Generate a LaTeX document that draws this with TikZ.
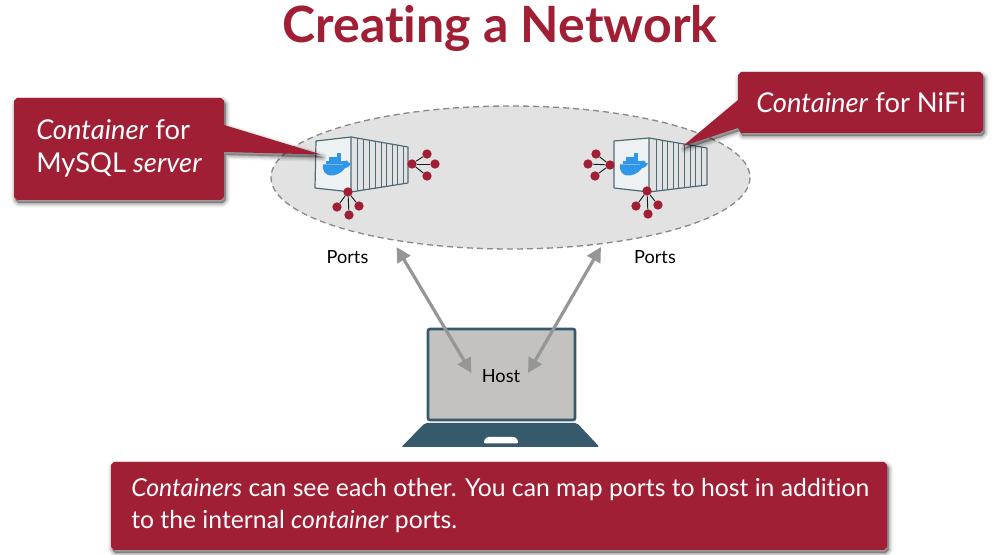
\documentclass[tikz,border=0pt]{standalone}
\usepackage{fontspec}
\setmainfont[Ligatures=NoCommon,Contextuals=NoAlternate]{Lato}
\usetikzlibrary{arrows.meta}
\definecolor{crimson}{HTML}{A01F35}
\definecolor{slateb}{HTML}{36596B}
\definecolor{contline}{HTML}{4F6B7A}
\definecolor{dockerb}{HTML}{2F96E8}
\definecolor{cloudg}{HTML}{E2E2E2}
\definecolor{dashg}{HTML}{8A8A8A}
\definecolor{screeng}{HTML}{C4C2C0}
\definecolor{arrowg}{HTML}{969696}
\definecolor{facec}{HTML}{EEF1F2}
\tikzset{
  x=0.75pt,y=-0.75pt,
  bodytext/.style={text=white,font=\fontsize{18.55}{22}\selectfont,anchor=base west,inner sep=0},
  calltext/.style={bodytext,font=\fontsize{20.5}{24}\selectfont},
  smalltext/.style={text=black,font=\fontsize{13.6}{16}\selectfont,inner sep=0},
  cont/.style={draw=contline,line width=0.9pt,line join=round},
  rib/.style={draw=contline,line width=0.7pt},
  porthub/.style={circle,fill=crimson,minimum size=7pt,inner sep=0},
  portwire/.style={draw=black!70!slateb,line width=0.7pt},
  linkarrow/.style={draw=arrowg,line width=2.4pt,{Triangle[length=11pt,width=11pt]}-{Triangle[length=11pt,width=11pt]}},
}
% soft drop shadow for a filled path
\newcommand{\softshadow}[1]{%
  \foreach \d/\o in {7/0.03,5.5/0.05,4/0.07,2.5/0.08,1/0.10}{
    \fill[black,opacity=\o,xshift=1.2pt,yshift=-2.2pt,line width=\d pt,draw=black,draw opacity=\o,line join=round] #1;
  }}
% whale: origin at left end of the body, at the water line
\newcommand{\whale}[2]{%
  \begin{scope}[shift={(#1,#2)}]
    \fill[dockerb] (0,-0.5) -- (20,-0.5) .. controls (20.5,-4) and (23,-5) .. (24,-4.5)
      .. controls (25,-3) and (25.5,-1.5) .. (28,-1.5)
      .. controls (27,1.5) and (24,3) .. (22,3.2)
      .. controls (18,9) and (11,11) .. (7,10.5)
      .. controls (2,10) and (-1,5) .. (0,-0.5) -- cycle;
    \foreach \px/\py in {2.5/-4,6.4/-4,10.3/-4,14.2/-4,18.1/-4,6.4/-7.9,10.3/-7.9,14.2/-7.9,14.2/-11.6}
      \fill[dockerb] (\px,\py) rectangle ++(3.5,3.5);
  \end{scope}}
\begin{document}
\begin{tikzpicture}
\useasboundingbox (0,0) rectangle (993,555);
\fill[white] (0,0) rectangle (993,555);

% title
\node[text=crimson,font=\bfseries\fontsize{37.5}{44}\selectfont,inner sep=0,anchor=base] (title) at (500,43) {Creating a Network};

% network cloud
\fill[cloudg] (510.5,177.5) ellipse [x radius=239.5,y radius=71.5];
\draw[dashg,line width=1pt,dash pattern=on 4.5pt off 3pt] (510.5,177.5) ellipse [x radius=239.5,y radius=71.5];

% left container
\fill[facec] (316,141) -- (351,137) -- (351,192) -- (315,188) -- cycle;
\draw[cont] (316,141) -- (351,137) -- (351,192) -- (315,188) -- cycle;
\draw[cont] (351,137) -- (408,147) -- (408,183) -- (351,192);
\foreach \ribx/\rt/\rb in {357/138/191,363/139/190,369/140/189.5,375/141/189,381/142/188,386/143/187,392/144/186,397/145/185,403/146/184}
  \draw[rib] (\ribx,\rt) -- (\ribx,\rb);
\whale{323}{165}

% right container
\fill[facec] (614,141) -- (649,138) -- (649,192) -- (614,188) -- cycle;
\draw[cont] (614,141) -- (649,138) -- (649,192) -- (614,188) -- cycle;
\draw[cont] (649,138) -- (707,148) -- (707,185) -- (649,192);
\foreach \ribx/\rt/\rb in {656/139/191,662/140/190,667/141/190,673/142/189,678/143/188,684/144/187,690/145/187,695/146/186,701/147/186}
  \draw[rib] (\ribx,\rt) -- (\ribx,\rb);
\whale{620}{165}

% port fans
\foreach \nm/\hx/\hy/\ax/\ay/\bx/\by/\cx/\cy in {
  a/412/164/427/154/435/164/427/176,
  b/348/192/337/207/349/215/359/206,
  c/610/165/596/154/588/164/595/176,
  d/647/191/636/206/648/214/658/205}{
  \node[porthub] (h\nm) at (\hx,\hy) {};
  \node[porthub] (p\nm1) at (\ax,\ay) {};
  \node[porthub] (p\nm2) at (\bx,\by) {};
  \node[porthub] (p\nm3) at (\cx,\cy) {};
  \draw[portwire] (h\nm) -- (p\nm1);
  \draw[portwire] (h\nm) -- (p\nm2);
  \draw[portwire] (h\nm) -- (p\nm3);
}

% callouts
\softshadow{(17,98) -- (221,98) -- (224,101) -- (224,125) -- (321,154.5) -- (224,152) -- (224,197) -- (221,200) -- (17,200) -- (14,197) -- (14,101) -- cycle}
\fill[crimson] (17,98) -- (221,98) -- (224,101) -- (224,125) -- (321,154.5) -- (224,152) -- (224,197) -- (221,200) -- (17,200) -- (14,197) -- (14,101) -- cycle;
\softshadow{(741,72) -- (980,72) -- (983,75) -- (983,130) -- (980,133) -- (741,133) -- (738,128) -- (683,146) -- (738,100) -- (738,75) -- cycle}
\fill[crimson] (741,72) -- (980,72) -- (983,75) -- (983,130) -- (980,133) -- (741,133) -- (738,128) -- (683,146) -- (738,100) -- (738,75) -- cycle;
\node[calltext] (lt1) at (36,140) {\textit{Container} for};
\node[calltext] (lt2) at (36,173) {MySQL \textit{server}};
\node[calltext] (rt1) at (756,113) {\textit{Container} for NiFi};

% laptop
\draw[slateb,fill=screeng,line width=2pt,rounded corners=1.5] (428,329) rectangle (575,420);
\fill[slateb,rounded corners=1.5] (425,423) -- (577,423) -- (599.5,447) -- (401.5,447) -- cycle;
\fill[white,rounded corners=2] (483,443.5) -- (486,437) -- (516,437) -- (519,443.5) -- cycle;

% labels
\node[smalltext] (ports1) at (347.5,257) {Ports};
\node[smalltext] (ports2) at (655,257) {Ports};
\node[smalltext] (host) at (501,376) {Host};

% arrows
\coordinate (e1) at (396.5,247);
\coordinate (e2) at (601,247);
\coordinate (h1) at (471.5,373);
\coordinate (h2) at (528,373);
\draw[linkarrow] (e1) -- (h1);
\draw[linkarrow] (e2) -- (h2);

% bottom box
\softshadow{(114,462) -- (884,462) -- (887,465) -- (887,547) -- (884,550) -- (114,550) -- (111,547) -- (111,465) -- cycle}
\fill[crimson] (114,462) -- (884,462) -- (887,465) -- (887,547) -- (884,550) -- (114,550) -- (111,547) -- (111,465) -- cycle;
\node[bodytext] (bt1) at (131,497) {\textit{Containers} can see each other. You can map ports to host in addition};
\node[bodytext] (bt2) at (131,529) {to the internal \textit{container} ports.};
\end{tikzpicture}
\end{document}
